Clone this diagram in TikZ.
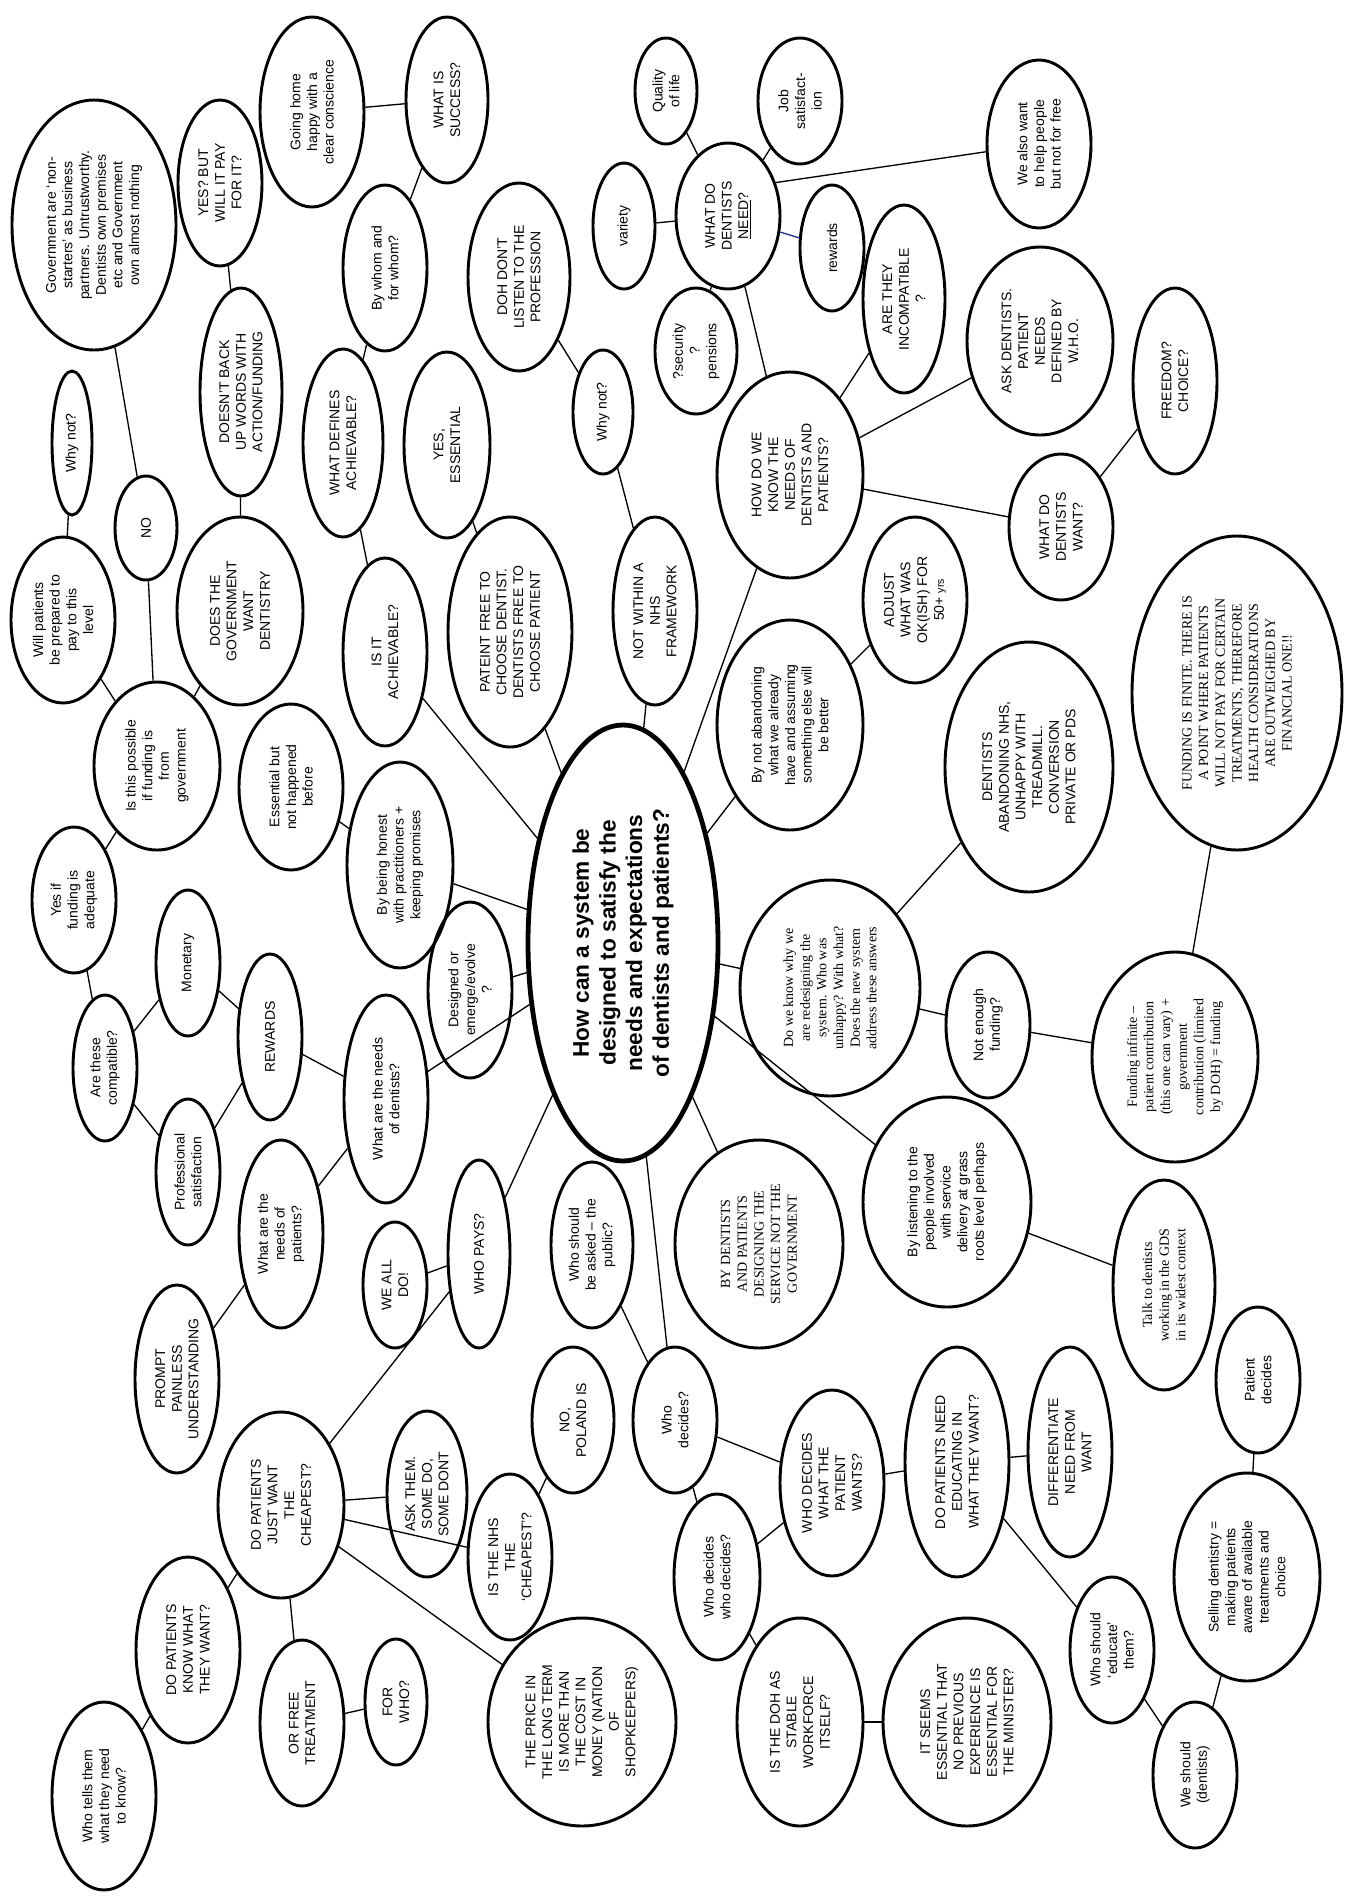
\documentclass[tikz,border=0pt]{standalone}
\usepackage{fontspec}
\setmainfont{Liberation Sans}
\newfontfamily\timesface{Liberation Serif}
\usetikzlibrary{shapes.geometric}

\begin{document}
\begin{tikzpicture}[x=0.75pt, y=-0.75pt,
    bubble/.style={draw, ellipse, line width=2.2pt, rotate=90, align=center,
        inner sep=0pt, font=\fontsize{10.5}{12.5}\selectfont},
    times/.style={font=\fontsize{10.5}{12.5}\selectfont\timesface},
    sz/.style 2 args={minimum width=#1*1.5pt, minimum height=#2*1.5pt},
    link/.style={line width=1pt}]
        \useasboundingbox (0,0) rectangle (1345,1900);

        % Central question
        \node[bubble, sz={218}{95}, line width=3.6pt, font=\fontsize{17}{20}\selectfont\bfseries] (main) at (623,943)
            {How can a system be\\designed to satisfy the\\needs and expectations\\of dentists and patients?};

        % Top left: government and funding
        \node[bubble, sz={125}{82}] (gov) at (94,225) {Government are ‘non-\\starters’ as business\\partners. Untrustworthy.\\Dentists own premises\\etc and Government\\own almost nothing};
        \node[bubble, sz={83}{42}] (yesbut) at (220,183) {YES? BUT\\WILL IT PAY\\FOR IT?};
        \node[bubble, sz={72}{20}] (whynota) at (72,443) {Why not?};
        \node[bubble, sz={104}{41}] (backup) at (241,392) {DOESN’T BACK\\UP WORDS WITH\\ACTION/FUNDING};
        \node[bubble, sz={83}{52}] (willpay) at (63,620) {Will patients\\be prepared to\\pay to this\\level};
        \node[bubble, sz={52}{31}] (no) at (146,528) {NO};
        \node[bubble, sz={94}{63}] (govwant) at (240,611) {DOES THE\\GOVERNMENT\\WANT\\DENTISTRY};
        \node[bubble, sz={84}{63}] (possible) at (157,766) {Is this possible\\if funding is\\from\\government};
        \node[bubble, sz={73}{42}] (yesif) at (74,900) {Yes if\\funding is\\adequate};

        % Top: success and achievability
        \node[bubble, sz={95}{52}] (home) at (312,112) {Going home\\happy with a\\clear conscience};
        \node[bubble, sz={83}{41}] (success) at (447,100) {WHAT IS\\SUCCESS?};
        \node[bubble, sz={83}{42}] (whom) at (385,268) {By whom and\\for whom?};
        \node[bubble, sz={94}{40}] (defines) at (343,443) {WHAT DEFINES\\ACHIEVABLE?};
        \node[bubble, sz={93}{43}] (essential) at (447,445) {YES,\\ESSENTIAL};
        \node[bubble, sz={94}{42}] (achieve) at (385,652) {IS IT\\ACHIEVABLE?};
        \node[bubble, sz={115}{62}] (choose) at (510,632) {PATEINT FREE TO\\CHOOSE DENTIST.\\DENTISTS FREE TO\\CHOOSE PATIENT};
        \node[bubble, sz={83}{52}] (notyet) at (291,787) {Essential but\\not happened\\before};
        \node[bubble, sz={103}{53}] (honest) at (400,865) {By being honest\\with practitioners +\\keeping promises};
        \node[bubble, sz={88}{42}] (designed) at (470,990) {Designed or\\emerge/evolve\\?};

        % Top right: what dentists need
        \node[bubble, sz={94}{51}] (doh) at (519,277) {DOH DON’T\\LISTEN TO THE\\PROFESSION};
        \node[bubble, sz={62}{30}] (whynotb) at (603,412) {Why not?};
        \node[bubble, sz={94}{42}] (nhs) at (655,611) {NOT WITHIN A\\NHS\\FRAMEWORK};
        \node[bubble, sz={53}{31}] (quality) at (666,91) {Quality\\of life};
        \node[bubble, sz={63}{42}] (job) at (800,101) {Job\\satisfact-\\ion};
        \node[bubble, sz={63}{31}] (variety) at (624,226) {variety};
        \node[bubble, sz={73}{52}] (need) at (728,216) {WHAT DO\\DENTISTS\\\underline{NEED}?};
        \node[bubble, sz={63}{41}] (security) at (696,351) {?security\\?\\pensions};
        \node[bubble, sz={63}{32}] (rewardsb) at (832,248) {rewards};
        \node[bubble, sz={94}{41}] (incompat) at (904,299) {ARE THEY\\INCOMPATIBLE\\?};
        \node[bubble, sz={84}{52}] (help) at (1039,144) {We also want\\to help people\\but not for free};
        \node[bubble, sz={94}{73}] (askdent) at (1040,341) {ASK DENTISTS.\\PATIENT\\NEEDS\\DEFINED BY\\W.H.O.};
        \node[bubble, sz={93}{42}] (freedom) at (1175,381) {FREEDOM?\\CHOICE?};
        \node[bubble, sz={103}{73}] (know) at (790,475) {HOW DO WE\\KNOW THE\\NEEDS OF\\DENTISTS AND\\PATIENTS?};
        \node[bubble, sz={73}{52}] (want) at (1061,527) {WHAT DO\\DENTISTS\\WANT?};

        % Right: funding
        \node[bubble, sz={105}{73}] (abandon) at (790,725) {By not abandoning\\what we already\\have and assuming\\something else will\\be better};
        \node[bubble, sz={83}{52}] (adjust) at (915,600) {ADJUST\\WHAT WAS\\OK(ISH) FOR\\50+ {\footnotesize yrs}};
        \node[bubble, sz={125}{84}] (leaving) at (1029,767) {DENTISTS\\ABANDONING NHS,\\UNHAPPY WITH\\TREADMILL.\\CONVERSION\\PRIVATE OR PDS};
        \node[bubble, times, sz={157}{105}] (finite) at (1237,693) {FUNDING IS FINITE. THERE IS\\A POINT WHERE PATIENTS\\WILL NOT PAY FOR CERTAIN\\TREATMENTS, THEREFORE\\HEALTH CONSIDERATIONS\\ARE OUTWEIGHED BY\\FINANCIAL ONE!!};
        \node[bubble, times, sz={108}{90}] (whyknow) at (830,988) {Do we know why we\\are redesigning the\\system. Who was\\unhappy? With what?\\Does the new system\\address these answers};
        \node[bubble, sz={73}{42}] (notenough) at (988,1025) {Not enough\\funding?};
        \node[bubble, times, sz={105}{83}] (infinite) at (1175,1057) {Funding infinite –\\patient contribution\\(this one can vary) +\\government\\contribution (limited\\by DOH) = funding};
        \node[bubble, sz={105}{84}] (listen) at (947,1202) {By listening to the\\people involved\\with service\\delivery at grass\\roots level perhaps};
        \node[bubble, times, sz={105}{51}] (talk) at (1164,1285) {Talk to dentists\\working in the GDS\\in its widest context};
        \node[bubble, sz={73}{42}] (decides) at (1258,1380) {Patient\\decides};

        % Left: needs and rewards
        \node[bubble, sz={73}{32}] (compat) at (105,1068) {Are these\\compatible?};
        \node[bubble, sz={73}{32}] (money) at (188,963) {Monetary};
        \node[bubble, sz={83}{32}] (rewards) at (270,1037) {REWARDS};
        \node[bubble, sz={73}{32}] (profsat) at (188,1172) {Professional\\satisfaction};
        \node[bubble, sz={104}{42}] (dneeds) at (386,1099) {What are the needs\\of dentists?};
        \node[bubble, sz={94}{42}] (pneeds) at (281,1234) {What are the\\needs of\\patients?};
        \node[bubble, sz={94}{42}] (prompt) at (177,1379) {PROMPT\\PAINLESS\\UNDERSTANDING};
        \node[bubble, sz={63}{32}] (weall) at (395,1285) {WE ALL\\DO!};
        \node[bubble, sz={94}{31}] (pays) at (479,1254) {WHO PAYS?};
        \node[bubble, sz={83}{41}] (asked) at (592,1245) {Who should\\be asked – the\\public?};
        \node[bubble, times, sz={104}{84}] (bydent) at (759,1244) {BY DENTISTS\\AND PATIENTS\\DESIGNING THE\\SERVICE NOT THE\\GOVERNMENT};

        % Bottom left: cheapest
        \node[bubble, sz={93}{63}] (cheapest) at (281,1505) {DO PATIENTS\\JUST WANT\\THE\\CHEAPEST?};
        \node[bubble, sz={83}{40}] (askthem) at (427,1494) {ASK THEM.\\SOME DO,\\SOME DONT};
        \node[bubble, sz={73}{41}] (poland) at (573,1420) {NO,\\POLAND IS};
        \node[bubble, sz={83}{42}] (nhscheap) at (510,1557) {IS THE NHS\\THE\\‘CHEAPEST’?};
        \node[bubble, sz={104}{94}] (price) at (582,1722) {THE PRICE IN\\THE LONG TERM\\IS MORE THAN\\THE COST IN\\MONEY (NATION\\OF\\SHOPKEEPERS)};
        \node[bubble, sz={93}{52}] (pknow) at (188,1650) {DO PATIENTS\\KNOW WHAT\\THEY WANT?};
        \node[bubble, sz={94}{52}] (tells) at (104,1796) {Who tells them\\what they need\\to know?};
        \node[bubble, sz={83}{42}] (free) at (302,1723) {OR FREE\\TREATMENT};
        \node[bubble, sz={63}{31}] (forwho) at (396,1702) {FOR\\WHO?};

        % Bottom right: who decides
        \node[bubble, sz={73}{42}] (whodec) at (675,1420) {Who\\decides?};
        \node[bubble, sz={93}{52}] (whowhat) at (832,1483) {WHO DECIDES\\WHAT THE\\PATIENT\\WANTS?};
        \node[bubble, sz={83}{43}] (whowho) at (717,1577) {Who decides\\who decides?};
        \node[bubble, sz={104}{63}] (stable) at (800,1722) {IS THE DOH AS\\STABLE\\WORKFORCE\\ITSELF?};
        \node[bubble, sz={104}{84}] (minister) at (967,1722) {IT SEEMS\\ESSENTIAL THAT\\NO PREVIOUS\\EXPERIENCE IS\\ESSENTIAL FOR\\THE MINISTER?};
        \node[bubble, sz={115}{52}] (educate) at (957,1462) {DO PATIENTS NEED\\EDUCATING IN\\WHAT THEY WANT?};
        \node[bubble, sz={105}{42}] (differ) at (1070,1452) {DIFFERENTIATE\\NEED FROM\\WANT};
        \node[bubble, sz={73}{42}] (whoedu) at (1112,1650) {Who should\\‘educate’\\them?};
        \node[bubble, sz={73}{42}] (weshould) at (1195,1775) {We should\\(dentists)};
        \node[bubble, sz={104}{73}] (selling) at (1247,1577) {Selling dentistry =\\making patients\\aware of available\\treatments and\\choice};

        % Connectors
        \draw[link] (home) -- (success);
        \draw[link] (success) -- (whom);
        \draw[link] (whom) -- (defines);
        \draw[link] (defines) -- (achieve);
        \draw[link] (achieve) -- (main);
        \draw[link] (yesbut) -- (backup);
        \draw[link] (backup) -- (govwant);
        \draw[link] (govwant) -- (possible);
        \draw[link] (gov) -- (no);
        \draw[link] (no) -- (possible);
        \draw[link] (whynota) -- (willpay);
        \draw[link] (willpay) -- (possible);
        \draw[link] (possible) -- (yesif);
        \draw[link] (yesif) -- (compat);
        \draw[link] (compat) -- (money);
        \draw[link] (compat) -- (profsat);
        \draw[link] (money) -- (rewards);
        \draw[link] (profsat) -- (rewards);
        \draw[link] (rewards) -- (dneeds);
        \draw[link] (dneeds) -- (main);
        \draw[link] (dneeds) -- (pneeds);
        \draw[link] (pneeds) -- (prompt);
        \draw[link] (notyet) -- (honest);
        \draw[link] (honest) -- (main);
        \draw[link] (designed) -- (main);
        \draw[link] (essential) -- (choose);
        \draw[link] (choose) -- (main);
        \draw[link] (doh) -- (whynotb);
        \draw[link] (whynotb) -- (nhs);
        \draw[link] (nhs) -- (main);
        \draw[link] (need) -- (quality);
        \draw[link] (need) -- (job);
        \draw[link] (need) -- (variety);
        \draw[link] (need) -- (security);
        \draw[link, color={rgb,255:red,40;green,50;blue,140}] (need) -- (rewardsb);
        \draw[link] (need.-55) -- (help);
        \draw[link] (need) -- (know);
        \draw[link] (know) -- (incompat);
        \draw[link] (know) -- (askdent);
        \draw[link] (know) -- (want);
        \draw[link] (know) -- (main);
        \draw[link] (want) -- (freedom);
        \draw[link] (abandon) -- (main);
        \draw[link] (abandon) -- (adjust);
        \draw[link] (leaving) -- (whyknow);
        \draw[link] (whyknow) -- (main);
        \draw[link] (whyknow) -- (notenough);
        \draw[link] (notenough) -- (infinite);
        \draw[link] (infinite) -- (finite);
        \draw[link] (main) -- (listen);
        \draw[link] (listen) -- (talk);
        \draw[link] (main) -- (pays);
        \draw[link] (pays) -- (weall);
        \draw[link] (pays) -- (cheapest);
        \draw[link] (main) -- (whodec);
        \draw[link] (asked) -- (whodec);
        \draw[link] (main) -- (bydent);
        \draw[link] (cheapest) -- (askthem);
        \draw[link] (cheapest) -- (nhscheap);
        \draw[link] (cheapest) -- (price);
        \draw[link] (cheapest) -- (pknow);
        \draw[link] (cheapest) -- (free);
        \draw[link] (free) -- (forwho);
        \draw[link] (pknow) -- (tells);
        \draw[link] (nhscheap) -- (poland);
        \draw[link] (whodec) -- (whowhat);
        \draw[link] (whodec) -- (whowho);
        \draw[link] (whowho) -- (whowhat);
        \draw[link] (whowho) -- (stable);
        \draw[link] (stable) -- (minister);
        \draw[link] (whowhat) -- (educate);
        \draw[link] (educate) -- (differ);
        \draw[link] (educate) -- (whoedu);
        \draw[link] (whoedu) -- (weshould);
        \draw[link] (weshould) -- (selling);
        \draw[link] (selling) -- (decides);
    \end{tikzpicture}
\end{document}
